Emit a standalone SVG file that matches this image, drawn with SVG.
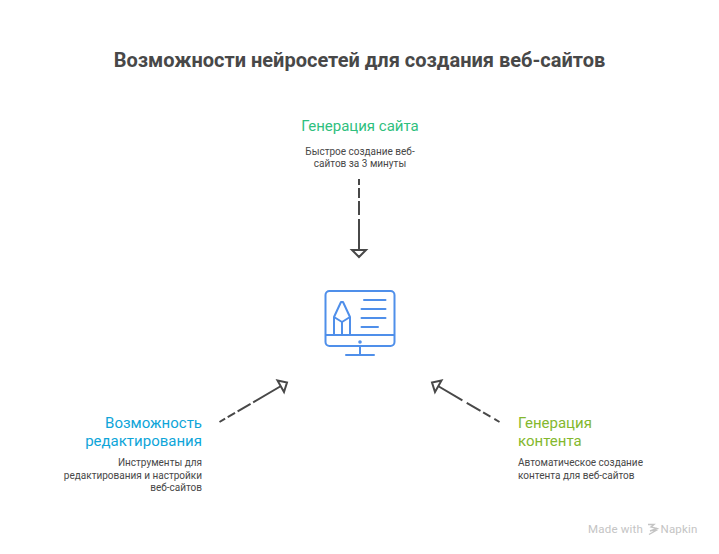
<svg xmlns="http://www.w3.org/2000/svg" width="719" height="554" viewBox="0 0 719 554">
<style>
text{font-family:Roboto,"Liberation Sans",sans-serif}
.t{font-size:15px;font-weight:400}
.d{font-size:10px;fill:#484848}
.c{fill:none;stroke:#484848;stroke-width:2}
.h{fill:#fff;stroke:#484848;stroke-width:2;stroke-linejoin:miter}
.i{fill:none;stroke:#4f8fea;stroke-width:2;stroke-linecap:round;stroke-linejoin:round}
</style>
<rect width="719" height="554" fill="#fff"/>
<text id="title" x="359.500" y="67" text-anchor="middle" font-size="20" font-weight="700" fill="#484848">Возможности нейросетей для создания веб-сайтов</text>
<g id="connectors">
<path class="c" d="M359 179V249" stroke-dasharray="6 3 10 3 14 4 40"/>
<path class="h" d="M352 250H366L359 257Z"/>
<path class="c" d="M219.500 422L281 386" stroke-dasharray="6.500 3 8.500 3 15 3 40"/>
<path class="h" d="M277.500 380.500L287 382.500L284 392Z"/>
<path class="c" d="M499.500 422L438 386" stroke-dasharray="6 4.500 8.500 3 16 5 40"/>
<path class="h" d="M441.500 380.500L432 382.500L435 392Z"/>
</g>
<g id="center-icon" class="i">
<rect x="325.500" y="291" width="69" height="55" rx="4"/>
<path d="M326 335H394M360 346V355M346 355H374"/>
<path d="M364 300H385.500M361.500 309H385.500M361.500 318H385.500M361.500 327H378"/>
<path d="M334 335V317L342 322L350 317V335M342 322V335M334 317L341 302H343L350 317"/>
<circle cx="360" cy="342" r="0.800"/>
</g>
<g id="node-site">
<text class="t" x="360" y="131" text-anchor="middle" fill="#2fc07e">Генерация сайта</text>
<text class="d" x="360" y="154.500" text-anchor="middle">Быстрое создание веб-</text>
<text class="d" x="360" y="166.500" text-anchor="middle">сайтов за 3 минуты</text>
</g>
<g id="node-edit">
<text class="t" x="202" y="428" text-anchor="end" fill="#0ea5d9">Возможность</text>
<text class="t" x="202" y="446" text-anchor="end" fill="#0ea5d9">редактирования</text>
<text class="d" x="202" y="466" text-anchor="end">Инструменты для</text>
<text class="d" x="202" y="478.500" text-anchor="end">редактирования и настройки</text>
<text class="d" x="202" y="491" text-anchor="end">веб-сайтов</text>
</g>
<g id="node-content">
<text class="t" x="518" y="428" fill="#84b82e">Генерация</text>
<text class="t" x="518" y="446" fill="#84b82e">контента</text>
<text class="d" x="518" y="466">Автоматическое создание</text>
<text class="d" x="518" y="478.500">контента для веб-сайтов</text>
</g>
<g id="watermark">
<text x="588" y="532.500" font-size="11.500" letter-spacing="0.200" fill="#c4c4c4">Made with</text>
<path d="M648 524.500H654L651 527L657 528.500L650 531M652 530.500H656L649 534.500" fill="none" stroke="#c4c4c4" stroke-width="1.400"/>
<text x="660.500" y="532.500" font-size="11.500" letter-spacing="0.200" fill="#c4c4c4">Napkin</text>
</g>
</svg>
